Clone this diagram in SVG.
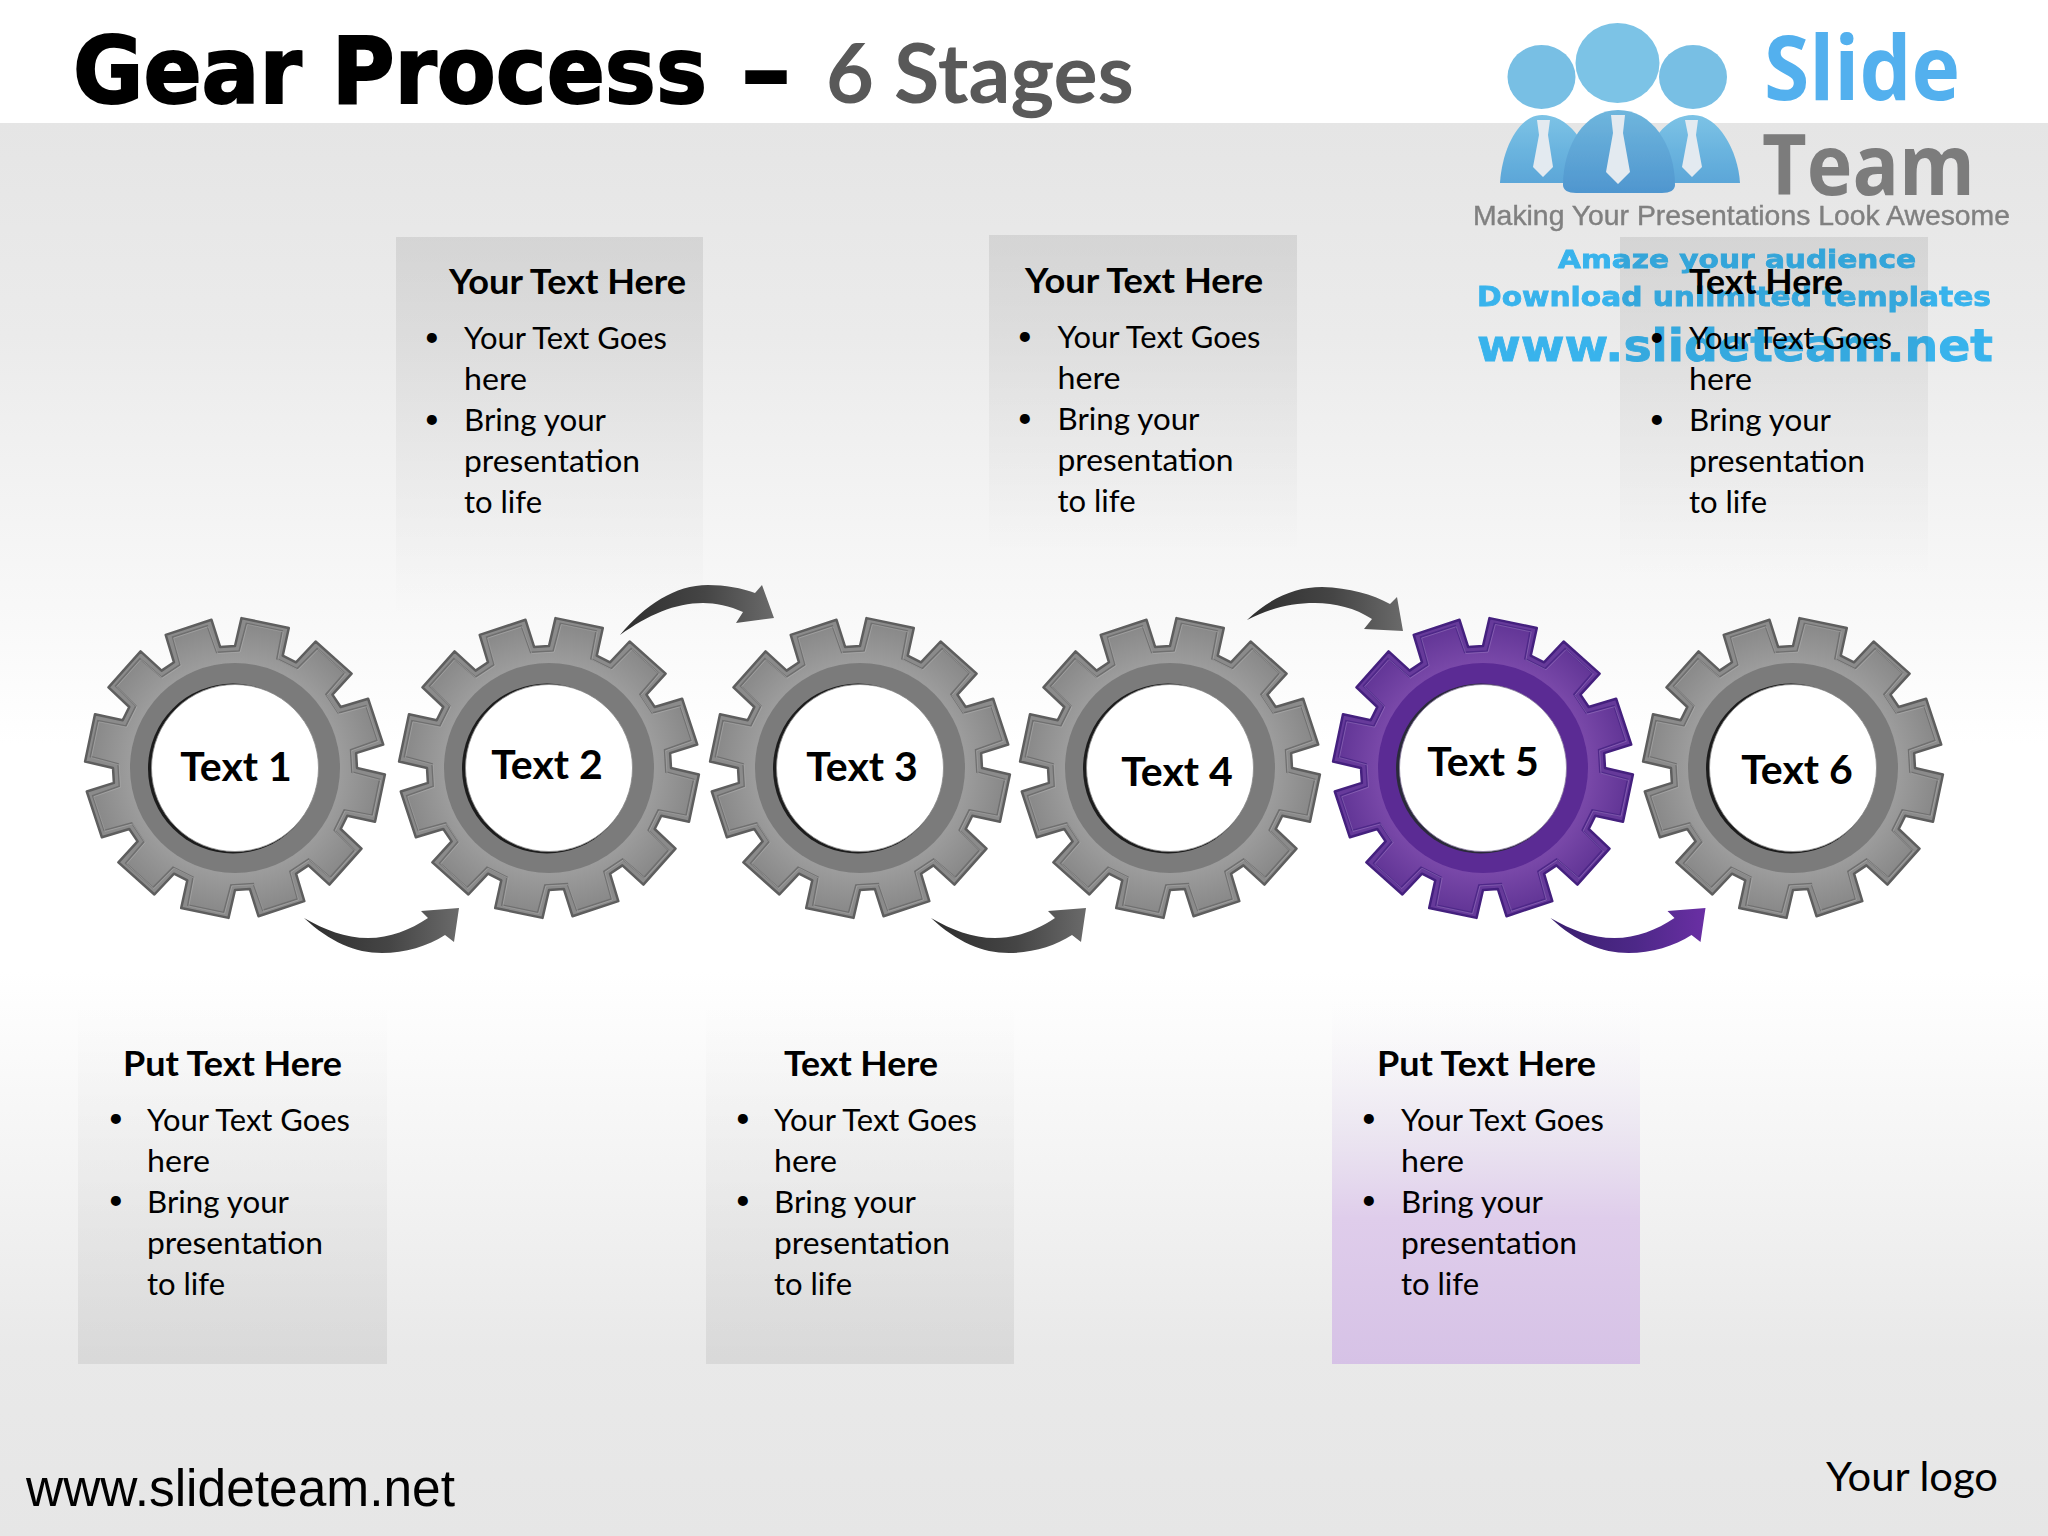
<svg xmlns="http://www.w3.org/2000/svg" width="2048" height="1536" viewBox="0 0 2048 1536">
<style>
text{font-family:"Lato","Carlito","Open Sans",sans-serif;fill:#000}
.h{font-size:35px;font-weight:700}
.b{font-size:31px}
.d{font-size:27px}
.lab{font-size:41px;font-weight:700;text-anchor:middle}
.logo{filter:url(#soft)}
.ga{fill:url(#ag)}.pa{fill:url(#ap)}
.os{font-family:"Open Sans",sans-serif;font-weight:700}
.dj{font-family:"DejaVu Sans",sans-serif;font-weight:700;fill:#38b3ec;stroke:#38b3ec;stroke-width:.8}
</style>
<defs>
<filter id="soft" filterUnits="userSpaceOnUse" x="1440" y="0" width="608" height="400"><feGaussianBlur stdDeviation="0.7"/></filter>
<linearGradient id="bg" x1="0" y1="0" x2="0" y2="1">
<stop offset="0" stop-color="#e5e5e5"/><stop offset=".15" stop-color="#ebebeb"/><stop offset=".37" stop-color="#fafafa"/><stop offset=".44" stop-color="#fff"/><stop offset=".6" stop-color="#fff"/><stop offset=".868" stop-color="#e9e9e9"/><stop offset="1" stop-color="#e6e6e6"/>
</linearGradient>
<linearGradient id="boxTop" x1="0" y1="0" x2="0" y2="1">
<stop offset="0" stop-color="#000" stop-opacity=".085"/><stop offset="1" stop-color="#000" stop-opacity="0"/>
</linearGradient>
<linearGradient id="boxBot" x1="0" y1="1" x2="0" y2="0">
<stop offset="0" stop-color="#000" stop-opacity=".07"/><stop offset="1" stop-color="#000" stop-opacity="0"/>
</linearGradient>
<linearGradient id="boxPur" x1="0" y1="1" x2="0" y2="0">
<stop offset="0" stop-color="#d6c2e6"/><stop offset=".4" stop-color="#dfcdeb"/><stop offset=".65" stop-color="#e9e2f0" stop-opacity=".75"/><stop offset="1" stop-color="#f6f4f8" stop-opacity="0"/>
</linearGradient>
<radialGradient id="gg" gradientUnits="userSpaceOnUse" cx="0" cy="0" r="150">
<stop offset=".68" stop-color="#9e9e9e"/><stop offset="1" stop-color="#868686"/>
</radialGradient>
<radialGradient id="gp" gradientUnits="userSpaceOnUse" cx="0" cy="0" r="150">
<stop offset=".68" stop-color="#7b4aaa"/><stop offset="1" stop-color="#5f3394"/>
</radialGradient>
<linearGradient id="ag" x1="0" y1="0" x2="1" y2="0">
<stop offset="0" stop-color="#2e2e2e"/><stop offset=".55" stop-color="#454545"/><stop offset="1" stop-color="#6a6a6a"/>
</linearGradient>
<linearGradient id="ap" x1="0" y1="0" x2="1" y2="0">
<stop offset="0" stop-color="#3a1f6e"/><stop offset=".55" stop-color="#4d2888"/><stop offset="1" stop-color="#6a2fa4"/>
</linearGradient>
<linearGradient id="personA" x1="0" y1="0" x2="0" y2="1">
<stop offset="0" stop-color="#7cc3e6"/><stop offset="1" stop-color="#5ba6d8"/>
</linearGradient>
<linearGradient id="personB" x1="0" y1="0" x2="0" y2="1">
<stop offset="0" stop-color="#6fb6dd"/><stop offset="1" stop-color="#4f96cf"/>
</linearGradient>
<path id="gearPath" d="M0,-122L6.5,-149.9L53.8,-140L47.7,-112.3L61,-105.7L80.6,-126.5L116.6,-94.4L97.4,-73.4L105.7,-61L133.1,-69.3L148.2,-23.5L121.1,-14.9L122,0L149.9,6.5L140,53.8L112.3,47.7L105.7,61L126.5,80.6L94.4,116.6L73.4,97.4L61,105.7L69.3,133.1L23.5,148.2L14.9,121.1L0,122L-6.5,149.9L-53.8,140L-47.7,112.3L-61,105.7L-80.6,126.5L-116.6,94.4L-97.4,73.4L-105.7,61L-133.1,69.3L-148.2,23.5L-121.1,14.9L-122,0L-149.9,-6.5L-140,-53.8L-112.3,-47.7L-105.7,-61L-126.5,-80.6L-94.4,-116.6L-73.4,-97.4L-61,-105.7L-69.3,-133.1L-23.5,-148.2L-14.9,-121.1Z"/>
<path id="gearInset" d="M4.1,-116.9L11.4,-144.6L47.2,-137.1L41.9,-109.2L62,-99.2L82.1,-119.5L109.4,-95.1L90.9,-73.6L103.3,-54.9L130.9,-62.4L142.3,-27.7L115.6,-18.3L116.9,4.1L144.6,11.4L137.1,47.2L109.2,41.9L99.2,62L119.5,82.1L95.1,109.4L73.6,90.9L54.9,103.3L62.4,130.9L27.7,142.3L18.3,115.6L-4.1,116.9L-11.4,144.6L-47.2,137.1L-41.9,109.2L-62,99.2L-82.1,119.5L-109.4,95.1L-90.9,73.6L-103.3,54.9L-130.9,62.4L-142.3,27.7L-115.6,18.3L-116.9,-4.1L-144.6,-11.4L-137.1,-47.2L-109.2,-41.9L-99.2,-62L-119.5,-82.1L-95.1,-109.4L-73.6,-90.9L-54.9,-103.3L-62.4,-130.9L-27.7,-142.3L-18.3,-115.6Z"/>
<g id="gearGray">
<use href="#gearPath" fill="#8b8b8b" stroke="#5e5e5e" stroke-width="2.5" stroke-linejoin="round"/>
<use href="#gearInset" fill="url(#gg)" stroke="#6f6f6f" stroke-width="1.6"/>
<use href="#gearInset" transform="translate(1 1)" fill="none" stroke="#b4b4b4" stroke-opacity=".5" stroke-width="1"/>
<circle r="105" fill="#7b7b7b"/>
<circle cx="-2" cy=".5" r="85" fill="#1c1c1c"/>
<circle r="83.5" fill="#fff" stroke="#8a8a8a" stroke-width=".8"/>
</g>
<g id="gearPurple">
<use href="#gearPath" fill="#663a9a" stroke="#44207e" stroke-width="2.5" stroke-linejoin="round"/>
<use href="#gearInset" fill="url(#gp)" stroke="#4e2888" stroke-width="1.6"/>
<use href="#gearInset" transform="translate(1 1)" fill="none" stroke="#a585c8" stroke-opacity=".45" stroke-width="1"/>
<circle r="105" fill="#5b2b94"/>
<circle cx="-2" cy=".5" r="85" fill="#2a2a3a"/>
<circle r="83.5" fill="#fff" stroke="#8a7aa0" stroke-width=".8"/>
</g>
<path id="arrowLow" d="M304,918C330,942 355,953 382,953C405,953 428,946 445,935L454,942L459,908L421,911L428,918C410,930 390,938 368,938C345,938 325,930 304,918Z"/>
</defs>

<g id="background">
<rect width="2048" height="1536" fill="#fff"/>
<rect y="123" width="2048" height="1413" fill="url(#bg)"/>
</g>

<g id="title">
<text x="73" y="103" style="font-family:'DejaVu Sans',sans-serif;font-size:93px;font-weight:700;stroke:#000;stroke-width:2" textLength="634" lengthAdjust="spacingAndGlyphs">Gear Process</text>
<text x="741" y="103" style="font-family:'DejaVu Sans',sans-serif;font-size:93px;font-weight:700;stroke:#000;stroke-width:2" textLength="50" lengthAdjust="spacingAndGlyphs">–</text>
<text x="826" y="103" style="font-size:82px;font-weight:700;fill:#595959" textLength="308" lengthAdjust="spacingAndGlyphs">6 Stages</text>
</g>

<g id="logo" class="logo">
<path d="M1500,183C1502,150 1518,115 1542,115C1566,115 1590,140 1595,183Z" fill="url(#personA)"/>
<path d="M1640,183C1645,140 1668,115 1693,115C1718,115 1738,150 1740,183Z" fill="url(#personA)"/>
<path d="M1563,185C1563,145 1585,110 1618,110C1652,110 1675,145 1675,185C1675,190 1670,193 1662,193H1576C1568,193 1563,190 1563,185Z" fill="url(#personB)"/>
<ellipse cx="1541.5" cy="77" rx="34" ry="32" fill="#78bfe4"/>
<ellipse cx="1693" cy="77" rx="34" ry="32" fill="#78bfe4"/>
<ellipse cx="1617.5" cy="63" rx="42" ry="40" fill="#7cc3e6"/>
<path d="M1537,120H1550L1548,135L1553,167L1543,177L1533,167L1539,135Z" fill="#e3eaf0"/>
<path d="M1611,115H1625L1623,133L1630,172L1618,184L1606,172L1613,133Z" fill="#e3eaf0"/>
<path d="M1685,120H1698L1696,135L1702,167L1692,177L1682,167L1688,135Z" fill="#e3eaf0"/>
<text class="os" x="1764" y="100" style="font-size:90px;fill:#52b0ee" textLength="196" lengthAdjust="spacingAndGlyphs">Slide</text>
<text class="os" x="1762" y="195" style="font-size:84px;fill:#7b7b7c" textLength="213" lengthAdjust="spacingAndGlyphs">Team</text>
<text x="1473" y="225" style="font-family:'Liberation Sans',sans-serif;font-size:28px;fill:#808080;stroke:#808080;stroke-width:.4" textLength="537" lengthAdjust="spacingAndGlyphs">Making Your Presentations Look Awesome</text>
<text class="dj" x="1558" y="268" style="font-size:25px" textLength="358" lengthAdjust="spacingAndGlyphs">Amaze your audience</text>
<text class="dj" x="1477" y="306" style="font-size:26px" textLength="514" lengthAdjust="spacingAndGlyphs">Download unlimited templates</text>
<text class="dj" x="1477" y="361" style="font-size:44px" textLength="516" lengthAdjust="spacingAndGlyphs">www.slideteam.net</text>
</g>

<g id="box-top-1">
<rect x="396" y="237" width="307" height="383" fill="url(#boxTop)"/>
<text class="h" x="449" y="294" textLength="237" lengthAdjust="spacingAndGlyphs">Your Text Here</text>
<text class="d" x="424" y="346">•</text><text class="d" x="424" y="428">•</text>
<text class="b" x="464" y="349" textLength="203" lengthAdjust="spacingAndGlyphs">Your Text Goes</text>
<text class="b" x="464" y="390" textLength="63" lengthAdjust="spacingAndGlyphs">here</text>
<text class="b" x="464" y="431" textLength="142" lengthAdjust="spacingAndGlyphs">Bring your</text>
<text class="b" x="464" y="472" textLength="176" lengthAdjust="spacingAndGlyphs">presentation</text>
<text class="b" x="464" y="513" textLength="78" lengthAdjust="spacingAndGlyphs">to life</text>
</g>
<g id="box-top-2">
<rect x="989" y="235" width="308" height="320" fill="url(#boxTop)"/>
<text class="h" x="1025" y="293" textLength="238" lengthAdjust="spacingAndGlyphs">Your Text Here</text>
<text class="d" x="1017" y="345">•</text><text class="d" x="1017" y="427">•</text>
<text class="b" x="1057.500" y="348" textLength="203" lengthAdjust="spacingAndGlyphs">Your Text Goes</text>
<text class="b" x="1057.500" y="389" textLength="63" lengthAdjust="spacingAndGlyphs">here</text>
<text class="b" x="1057.500" y="430" textLength="142" lengthAdjust="spacingAndGlyphs">Bring your</text>
<text class="b" x="1057.500" y="471" textLength="176" lengthAdjust="spacingAndGlyphs">presentation</text>
<text class="b" x="1057.500" y="512" textLength="78" lengthAdjust="spacingAndGlyphs">to life</text>
</g>
<g id="box-top-3">
<rect x="1620" y="237" width="308" height="343" fill="url(#boxTop)"/>
<text class="h" x="1689" y="294" textLength="154" lengthAdjust="spacingAndGlyphs">Text Here</text>
<text class="d" x="1649" y="346">•</text><text class="d" x="1649" y="428">•</text>
<text class="b" x="1689" y="349" textLength="203" lengthAdjust="spacingAndGlyphs">Your Text Goes</text>
<text class="b" x="1689" y="390" textLength="63" lengthAdjust="spacingAndGlyphs">here</text>
<text class="b" x="1689" y="431" textLength="142" lengthAdjust="spacingAndGlyphs">Bring your</text>
<text class="b" x="1689" y="472" textLength="176" lengthAdjust="spacingAndGlyphs">presentation</text>
<text class="b" x="1689" y="513" textLength="78" lengthAdjust="spacingAndGlyphs">to life</text>
</g>

<g id="connectors">
<use href="#arrowLow" class="ga"/>
<use href="#arrowLow" class="ga" transform="translate(627 0)"/>
<use href="#arrowLow" class="pa" transform="translate(1246.5 0)"/>
<path class="ga" d="M620,635C645,605 675,585 708,585C725,585 742,588 755,593L762,585L774,618L736,623L743,612C730,606 715,603 703,603C675,603 648,615 620,635Z"/>
<path class="ga" d="M1247,620C1270,598 1295,587 1322,587C1350,588 1372,594 1390,604L1397,597L1403,631L1364,629L1372,619C1355,608 1335,603 1315,603C1290,603 1268,609 1247,620Z"/>
</g>

<g id="gear-1" transform="translate(235 768)"><use href="#gearGray"/><text class="lab" x="1" y="13">Text 1</text></g>
<g id="gear-2" transform="translate(549 768)"><use href="#gearGray"/><text class="lab" x="-2" y="11">Text 2</text></g>
<g id="gear-3" transform="translate(860 768)"><use href="#gearGray"/><text class="lab" x="2" y="13">Text 3</text></g>
<g id="gear-4" transform="translate(1170 768)"><use href="#gearGray"/><text class="lab" x="7" y="18">Text 4</text></g>
<g id="gear-5" transform="translate(1483 768)"><use href="#gearPurple"/><text class="lab" x="0" y="8">Text 5</text></g>
<g id="gear-6" transform="translate(1793 768)"><use href="#gearGray"/><text class="lab" x="4" y="16">Text 6</text></g>

<g id="box-bottom-1">
<rect x="78" y="1000" width="309" height="364" fill="url(#boxBot)"/>
<text class="h" x="123" y="1076" textLength="219" lengthAdjust="spacingAndGlyphs">Put Text Here</text>
<text class="d" x="108" y="1127">•</text><text class="d" x="108" y="1209">•</text>
<text class="b" x="147" y="1131" textLength="203" lengthAdjust="spacingAndGlyphs">Your Text Goes</text>
<text class="b" x="147" y="1172" textLength="63" lengthAdjust="spacingAndGlyphs">here</text>
<text class="b" x="147" y="1213" textLength="142" lengthAdjust="spacingAndGlyphs">Bring your</text>
<text class="b" x="147" y="1254" textLength="176" lengthAdjust="spacingAndGlyphs">presentation</text>
<text class="b" x="147" y="1295" textLength="78" lengthAdjust="spacingAndGlyphs">to life</text>
</g>
<g id="box-bottom-2">
<rect x="706" y="1000" width="308" height="364" fill="url(#boxBot)"/>
<text class="h" x="784" y="1076" textLength="154" lengthAdjust="spacingAndGlyphs">Text Here</text>
<text class="d" x="735" y="1127">•</text><text class="d" x="735" y="1209">•</text>
<text class="b" x="774" y="1131" textLength="203" lengthAdjust="spacingAndGlyphs">Your Text Goes</text>
<text class="b" x="774" y="1172" textLength="63" lengthAdjust="spacingAndGlyphs">here</text>
<text class="b" x="774" y="1213" textLength="142" lengthAdjust="spacingAndGlyphs">Bring your</text>
<text class="b" x="774" y="1254" textLength="176" lengthAdjust="spacingAndGlyphs">presentation</text>
<text class="b" x="774" y="1295" textLength="78" lengthAdjust="spacingAndGlyphs">to life</text>
</g>
<g id="box-bottom-3">
<rect x="1332" y="1000" width="308" height="364" fill="url(#boxPur)"/>
<text class="h" x="1377" y="1076" textLength="219" lengthAdjust="spacingAndGlyphs">Put Text Here</text>
<text class="d" x="1361" y="1127">•</text><text class="d" x="1361" y="1209">•</text>
<text class="b" x="1401" y="1131" textLength="203" lengthAdjust="spacingAndGlyphs">Your Text Goes</text>
<text class="b" x="1401" y="1172" textLength="63" lengthAdjust="spacingAndGlyphs">here</text>
<text class="b" x="1401" y="1213" textLength="142" lengthAdjust="spacingAndGlyphs">Bring your</text>
<text class="b" x="1401" y="1254" textLength="176" lengthAdjust="spacingAndGlyphs">presentation</text>
<text class="b" x="1401" y="1295" textLength="78" lengthAdjust="spacingAndGlyphs">to life</text>
</g>

<g id="footer">
<text x="26" y="1506" style="font-family:'Liberation Sans',sans-serif;font-size:51px" textLength="429" lengthAdjust="spacingAndGlyphs">www.slideteam.net</text>
<text x="1826" y="1491" style="font-size:40px" textLength="172" lengthAdjust="spacingAndGlyphs">Your logo</text>
</g>
</svg>
